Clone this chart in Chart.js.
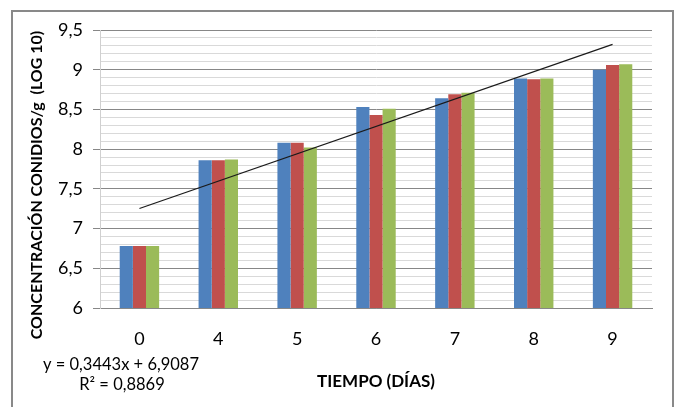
<!DOCTYPE html>
<html>
<head>
<meta charset="utf-8">
<script src="https://cdn.jsdelivr.net/npm/chart.js@4.4.1/dist/chart.umd.min.js"></script>
<style>
html,body{margin:0;padding:0;background:#fff;}
#wrap{width:681px;height:407px;position:relative;}
</style>
</head>
<body>
<div id="wrap"><canvas id="c" width="681" height="407"></canvas></div>
<script>
// Data
const categories = ['0', '4', '5', '6', '7', '8', '9'];
const series1 = [6.78, 7.86, 8.08, 8.53, 8.64, 8.89, 9.00];
const series2 = [6.78, 7.86, 8.08, 8.43, 8.69, 8.88, 9.06];
const series3 = [6.78, 7.87, 8.02, 8.51, 8.71, 8.89, 9.07];
// Linear trend line endpoints (y = 0,3443x + 6,9087 at x = 1 and x = 7)
const trendValues = [7.2530, null, null, null, null, null, 9.3188];
const equationLines = ['y = 0,3443x + 6,9087', 'R\u00B2 = 0,8869'];
const yTitle = 'CONCENTRACI\u00D3N CONIDIOS/g  (LOG 10)';
const xTitle = 'TIEMPO (D\u00CDAS)';

const FONT = 'Lato, "Liberation Sans", sans-serif';

const framePlugin = {
  id: 'frame',
  afterDraw(chart) {
    const ctx = chart.ctx;
    ctx.save();
    ctx.strokeStyle = '#898989';
    ctx.lineWidth = 2;
    ctx.strokeRect(12, 11, 661, 410);
    ctx.fillStyle = '#000';
    ctx.font = '16.5px ' + FONT;
    ctx.textAlign = 'center';
    ctx.textBaseline = 'middle';
    ctx.fillText(equationLines[0], 121, 365);
    ctx.fillText(equationLines[1], 122, 385);
    // rotated value-axis title
    ctx.translate(37, 185);
    ctx.rotate(-Math.PI / 2);
    ctx.font = 'bold 16px ' + FONT;
    ctx.fillText(yTitle, 0, 0);
    ctx.restore();
  }
};

function isMajor(v) {
  return Math.round(v * 10) % 5 === 0;
}

new Chart(document.getElementById('c'), {
  type: 'bar',
  data: {
    labels: categories,
    datasets: [
      { label: 'S1', data: series1, backgroundColor: '#4F81BD', order: 1 },
      { label: 'S2', data: series2, backgroundColor: '#C0504D', order: 1 },
      { label: 'S3', data: series3, backgroundColor: '#9BBB59', order: 1 },
      { type: 'line', label: 'Lineal', data: trendValues, spanGaps: true,
        borderColor: '#1a1a1a', borderWidth: 1.2, pointRadius: 0, fill: false, order: 0 }
    ]
  },
  plugins: [framePlugin],
  options: {
    responsive: false,
    animation: false,
    devicePixelRatio: 1,
    layout: { padding: { left: 14, right: 29, top: 30, bottom: 0 } },
    plugins: { legend: { display: false }, tooltip: { enabled: false } },
    datasets: { bar: { categoryPercentage: 0.5, barPercentage: 1.0, borderWidth: 0 } },
    scales: {
      x: {
        grid: { display: false, drawTicks: false },
        border: { display: true, color: '#878787', width: 1 },
        ticks: { color: '#000', font: { size: 18, family: FONT }, padding: 20 },
        title: { display: true, text: xTitle, color: '#000',
                 font: { size: 17, weight: 'bold', family: FONT }, padding: { top: 0, bottom: 15 } },
        afterFit(scale) { scale.height = 99; }
      },
      y: {
        min: 6, max: 9.5,
        grid: {
          color: (c) => isMajor(c.tick.value) ? '#878787' : '#d9d9d9',
          tickColor: (c) => isMajor(c.tick.value) ? '#878787' : 'rgba(0,0,0,0)',
          tickLength: 7, lineWidth: 1
        },
        border: { display: true, color: '#d0d0d0', width: 1 },
        ticks: {
          stepSize: 0.1, autoSkip: false, color: '#000', padding: 10,
          font: { size: 18, family: FONT },
          callback: (v) => {
            const t = Math.round(v * 10);
            if (t % 5 !== 0) return '';
            return (t % 10 === 0) ? String(t / 10) : (t / 10).toFixed(1).replace('.', ',');
          }
        },
        title: { display: false },
        afterFit(scale) { scale.width = 86; }
      }
    }
  }
});
</script>
</body>
</html>
